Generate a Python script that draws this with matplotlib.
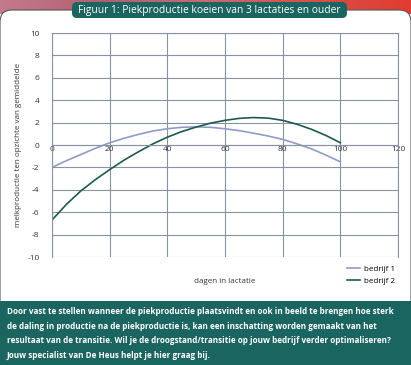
import numpy as np
import matplotlib
matplotlib.use('Agg')
import matplotlib.pyplot as plt
from matplotlib.patches import FancyBboxPatch, Rectangle

plt.rcParams['font.family'] = ['Open Sans', 'DejaVu Sans']
plt.rcParams['axes.unicode_minus'] = False

# data
dagen = [0, 5, 10, 15, 20, 25, 30, 35, 40, 45, 50, 55, 60, 65, 70, 75, 80, 85, 90, 95, 100]
bedrijf1 = [-2.0, -1.4, -0.85, -0.3, 0.2, 0.6, 0.95, 1.25, 1.45, 1.58, 1.62, 1.58, 1.45,
            1.28, 1.05, 0.8, 0.5, 0.1, -0.35, -0.9, -1.5]
bedrijf2 = [-6.7, -5.3, -4.1, -3.1, -2.2, -1.35, -0.6, 0.1, 0.7, 1.2, 1.6, 1.95, 2.2,
            2.38, 2.45, 2.4, 2.2, 1.85, 1.4, 0.85, 0.2]
x_ticks = [0, 20, 40, 60, 80, 100, 120]
y_ticks = [-10, -8, -6, -4, -2, 0, 2, 4, 6, 8, 10]

titel = "Figuur 1: Piekproductie koeien van 3 lactaties en ouder"
tekst = ("Door vast te stellen wanneer de piekproductie plaatsvindt en ook in beeld te brengen hoe sterk\n"
         "de daling in productie na de piekproductie is, kan een inschatting worden gemaakt van het\n"
         "resultaat van de transitie. Wil je de droogstand/transitie op jouw bedrijf verder optimaliseren?\n"
         "Jouw specialist van De Heus helpt je hier graag bij.")

teal = '#1b6560'
kleur1 = '#8f9cc6'
kleur2 = '#1d5a4e'
grid_c = '#8593a3'

W, H = 411, 365
fig = plt.figure(figsize=(W / 100, H / 100), dpi=100)

# background layer in pixel coordinates
bg = fig.add_axes([0, 0, 1, 1])
bg.set_xlim(0, W)
bg.set_ylim(H, 0)
bg.axis('off')

# blurred photo strip at the top
grad = np.linspace(0, 1, 200)[None, :]
cmap = matplotlib.colors.LinearSegmentedColormap.from_list(
    'foto', ['#c47a8c', '#b06070', '#c96a70', '#d8504a', '#e23c30'])
bg.imshow(grad, cmap=cmap, extent=[0, W, 14, 0], aspect='auto', zorder=0)

panel = FancyBboxPatch((0, 10), W, 320, boxstyle='round,pad=0,rounding_size=12',
                       facecolor='white', edgecolor='#555555', linewidth=0.8, zorder=1)
bg.add_patch(panel)

# title banner
banner = FancyBboxPatch((72, 2), 275, 16, boxstyle='round,pad=0,rounding_size=5',
                        facecolor=teal, edgecolor='none', zorder=2)
bg.add_patch(banner)
bg.text(209.5, 10.5, titel, color='white', fontsize=7.4, ha='center', va='center', zorder=3)

# bottom text box
bg.add_patch(Rectangle((0, 301), W, 64, facecolor=teal, edgecolor='none', zorder=2))
bg.text(7, 307, tekst, color='white', fontsize=5.85, fontweight='bold', ha='left', va='top',
        linespacing=1.8, zorder=3)

# chart
ax = fig.add_axes([52 / W, 1 - 257 / H, 346 / W, 224 / H])
ax.plot(dagen, bedrijf1, color=kleur1, lw=1.2, label='bedrijf 1')
ax.plot(dagen, bedrijf2, color=kleur2, lw=1.2, label='bedrijf 2')
ax.set_xlim(0, 120)
ax.set_ylim(-10, 10)
ax.set_xticks(x_ticks)
ax.set_yticks(y_ticks)
ax.grid(True, color=grid_c, lw=0.8)
ax.set_axisbelow(True)
for s in ax.spines.values():
    s.set_color(grid_c)
    s.set_linewidth(0.8)
ax.spines['bottom'].set_position(('data', 0))
ax.tick_params(length=0, labelsize=6, colors='#333333')
ax.tick_params(axis='y', pad=9)
ax.tick_params(axis='x', pad=1)
ax.set_ylabel('melkproductie ten opzichte van gemiddelde', fontsize=5.8, color='#333333', labelpad=4)
ax.text(60, -12.2, 'dagen in lactatie', fontsize=5.8, color='#333333', ha='center', va='center')
ax.legend(loc='upper left', bbox_to_anchor=(0.84, -0.02), frameon=False, fontsize=5.8,
          handlelength=1.6, handletextpad=0.5, labelspacing=0.5, borderpad=0)

fig.savefig('out.png', dpi=100)
